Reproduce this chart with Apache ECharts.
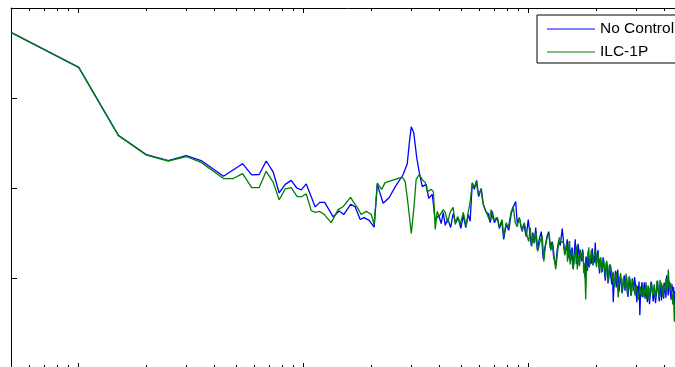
<!DOCTYPE html>
<html>
<head>
<meta charset="utf-8">
<script src="https://cdn.jsdelivr.net/npm/echarts@6/dist/echarts.min.js"></script>
<style>
  html, body { margin: 0; padding: 0; overflow: hidden; background: #fff; width: 675px; height: 367px; }
  #chart { width: 700px; height: 380px; }
</style>
</head>
<body>
<div id="chart"></div>
<script>
// Magnitude spectra, [frequency (Hz), magnitude (dB)]
const seriesNames = ['No Control', 'ILC-1P'];

const noControl = [
  [0.5,-5.4],[1,-13.2],[1.5,-28.3],[2,-32.6],[2.5,-33.9],[3,-32.8],[3.5,-33.9],[4.4,-37.4],
  [5.35,-34.6],[5.87,-37.1],[6.34,-37.0],[6.81,-34.0],[7.31,-36.4],[7.78,-41.1],[8.28,-39.2],[8.8,-38.3],[9.31,-40.0],[9.75,-40.4],
  [10.26,-39.1],[11.25,-44.2],[11.78,-43.2],[12.39,-43.2],[13.52,-46.4],[14.38,-45.1],[15.06,-45.9],[16.18,-43.6],[16.94,-44.2],
  [17.82,-47.0],[18.49,-46.6],[19.55,-47.2],[20.56,-48.7],
  [21.23,-39.2],[22.54,-43.4],[23.99,-42.1],[25.52,-39.7],[27.67,-37.0],[28.84,-34.6],[29.58,-29.2],[30.06,-26.4],[30.83,-27.7],
  [31.77,-33.2],[32.59,-36.4],[33.63,-39.7],[35.02,-39.2],[35.94,-42.3],[37.25,-41.4],[38.41,-47.2],[39.81,-46.1],
  [40.83,-47.9],[41.69,-45.4],[42.56,-48.3],[43.65,-46.8],[44.98,-48.8],[46.13,-45.7],[47.39,-47.7],[48.6,-46.6],[49.9,-49.0],
  [51.2,-46.1],[52.5,-48.8],[53.8,-45.9],[54.9,-47.4],[56.1,-39.0],[57.3,-40.3],[58.7,-38.3],[59.9,-41.9],[61.5,-40.1],[62.8,-43.7],
  [64.4,-45.2],[66.1,-45.7],[67.4,-47.7],[68.9,-45.2],[70.3,-47.7],[72.5,-46.6],[74.0,-49.0],[75.9,-47.4],[77.4,-51.4],[79.4,-48.1],
  [81.5,-49.4],[83.6,-45.7],[85.3,-44.3],[87.5,-43.0],[88.9,-47.9],[90.8,-46.6],[93.1,-49.4],[95.1,-48.1],[97.5,-50.8],
  [99.5,-47.0],[101.0,-49.7],[102.6,-52.8],[104.2,-49.9],[105.7,-52.3],[107.4,-48.8],[109.1,-53.7],[111.4,-51.4],[113.7,-49.7],
  [115.9,-55.7],[118.4,-52.8],[120.8,-50.6],[122.7,-49.7],[124.7,-53.4],[127.1,-51.9],[129.1,-55.4],[131.8,-57.2],[133.9,-53.7],
  [135.9,-51.7],[138.0,-52.8],[140.9,-49.0],[143.2,-52.6],[145.3,-54.6],
  [148.3,-51.4],[149.5,-55.6],[150.7,-54.3],[151.8,-51.8],[152.8,-56.3],[154.4,-54.0],[156.1,-53.2],[157.3,-57.9],[158.5,-56.8],
  [159.8,-53.5],[161.0,-51.4],[162.7,-56.9],[164.4,-55.4],[165.6,-52.4],[166.9,-53.7],[168.1,-57.0],[169.4,-53.9],[170.7,-55.0],
  [172.1,-56.3],[173.4,-53.6],[174.8,-55.7],[176.5,-58.0],[178.3,-60.1],[179.7,-55.2],[181.1,-56.3],[182.5,-58.4],[183.9,-54.1],
  [185.8,-57.6],[187.7,-55.9],[189.6,-56.8],[191.6,-53.4],[193.0,-57.2],[194.5,-55.2],[196.0,-56.6],[197.5,-52.1],[199.5,-57.0],
  [201.5,-55.4],[203.1,-53.8],[204.8,-56.3],[206.4,-59.0],[208.0,-55.7],[210.1,-56.8],[212.3,-58.6],[213.9,-55.4],[215.5,-56.3],
  [217.2,-58.8],[218.9,-60.6],[221.1,-56.6],[223.4,-57.2],[225.1,-61.2],[226.9,-59.4],[228.6,-57.0],[230.3,-58.6],[232.1,-60.0],
  [233.9,-61.4],[235.7,-58.9],[237.5,-65.4],[239.3,-61.8],[241.2,-60.6],[243.0,-58.4],[244.9,-62.1],[246.8,-60.0],[248.7,-58.1],
  [250.6,-61.5],[252.5,-63.0],[255.1,-59.6],[257.8,-60.8],[259.8,-63.4],[261.8,-62.1],[263.8,-60.4],[265.8,-59.4],[267.8,-62.8],
  [269.9,-61.0],[272.0,-59.8],[274.1,-63.0],[276.2,-64.2],[278.3,-61.2],[280.4,-59.9],[282.6,-62.6],[285.6,-63.8],[288.6,-60.1],
  [290.8,-61.5],[293.1,-62.8],[295.4,-59.8],[297.7,-61.4],[300.0,-63.0],[302.3,-65.4],[304.6,-61.8],[307.0,-63.4],[309.3,-60.8],
  [311.7,-68.3],[313.9,-64.0],[316.2,-62.6],[318.7,-60.9],[321.3,-64.3],[323.8,-63.0],[326.3,-61.0],[328.7,-64.6],[331.2,-63.2],
  [333.9,-61.6],[336.6,-65.4],[339.1,-63.6],[341.6,-62.1],[344.1,-65.8],[346.7,-63.9],[349.4,-60.8],[352.2,-61.4],[354.7,-63.0],
  [357.3,-65.2],[360.2,-64.0],[363.1,-62.6],[365.9,-65.6],[368.7,-63.9],[371.4,-62.0],[374.1,-60.6],[377.1,-63.4],[380.2,-65.2],
  [383.3,-61.9],[386.4,-63.0],[389.0,-65.0],[391.7,-61.7],[394.9,-63.0],[398.1,-64.6],[401.3,-61.0],[404.6,-62.8],[407.4,-64.4],
  [410.2,-59.4],[413.5,-61.6],[416.9,-63.9],[420.2,-60.8],[423.6,-61.9],[426.5,-63.6],[429.5,-64.8],[433.0,-61.4],[436.5,-63.0],
  [440.0,-62.0],[443.6,-65.9],[446.7,-62.9],[449.8,-64.3],[455.5,-62.6],[461.3,-65.2],[468.8,-62.2],[476.4,-63.7],[483.7,-62.0],
  [491.0,-64.8],[495.5,-63.1],[500,-64.2]
];

const ilc1p = [
  [0.5,-5.4],[1,-13.2],[1.5,-28.3],[2,-32.7],[2.5,-34.0],[3,-33.0],[3.5,-34.3],[4.4,-37.9],[4.86,-37.9],
  [5.35,-36.8],[5.87,-39.9],[6.34,-39.9],[6.81,-36.3],[7.31,-38.7],[7.78,-42.6],[8.28,-40.2],[8.8,-39.9],[9.35,-41.9],[9.8,-41.9],
  [10.26,-41.3],[10.79,-45.0],[11.25,-45.4],[11.74,-45.2],[12.35,-45.9],[13.24,-47.7],[14.22,-44.8],[15.0,-44.1],[16.14,-42.1],
  [16.94,-43.7],[17.3,-44.3],[18.0,-45.9],[18.97,-45.2],[19.95,-45.9],[20.56,-48.1],
  [21.23,-38.9],[22.2,-40.3],[23.0,-38.8],[25.5,-38.1],[27.4,-37.6],[28.25,-38.6],[29.1,-43.7],[30.06,-50.1],[30.83,-44.8],
  [31.6,-38.1],[32.6,-37.0],[33.6,-38.1],[34.7,-38.8],[35.4,-40.8],[36.9,-40.3],[37.7,-40.8],[38.4,-49.2],[39.2,-45.2],
  [40.0,-46.3],[41.69,-44.8],[42.56,-45.4],[43.65,-47.7],[44.7,-45.4],[46.13,-44.3],[47.1,-48.1],[48.3,-46.3],[49.6,-48.1],
  [51.2,-45.4],[52.7,-48.6],[53.8,-45.4],[54.9,-43.2],[56.1,-38.8],[57.3,-39.9],[58.4,-38.6],[59.7,-41.4],[61.5,-40.3],[62.5,-43.2],
  [64.1,-44.8],[65.4,-45.2],[66.7,-47.0],[68.1,-44.8],[69.5,-47.0],[72.5,-46.6],[74.0,-48.6],[76.2,-47.0],[77.4,-50.8],[79.4,-47.7],
  [81.1,-48.8],[83.6,-45.2],[85.3,-44.1],[87.1,-47.7],[88.9,-48.6],[90.8,-46.6],[93.6,-49.7],[95.5,-47.7],[98.5,-50.8],[100,-51.9],
  [101.6,-48.8],[103.1,-53.0],[104.7,-50.1],[106.4,-52.1],[107.9,-49.7],[109.6,-54.1],[112.5,-51.7],[114.8,-50.6],[116.7,-56.3],
  [118.4,-53.2],[120.8,-51.0],[123.3,-50.1],[125.3,-53.9],[127.9,-52.3],[129.8,-55.4],[131.8,-58.1],[134.6,-53.9],[136.7,-51.0],
  [139.4,-52.1],[142.3,-51.9],[144.5,-55.0],
  [147.6,-52.3],[148.7,-56.4],[149.9,-54.8],[151.3,-52.0],[152.8,-57.0],[154.0,-55.6],[155.2,-53.7],[156.4,-56.9],[157.7,-58.1],
  [159.3,-55.8],[161.0,-54.6],[162.7,-52.8],[164.4,-58.1],[165.6,-56.5],[166.9,-55.0],[168.1,-57.4],[169.4,-53.7],[171.2,-55.0],
  [173.0,-56.1],[174.3,-54.0],[175.6,-59.0],[177.3,-56.8],[179.1,-64.8],[180.5,-58.8],[182.0,-56.6],[183.4,-55.0],[184.8,-53.2],
  [186.2,-57.4],[187.7,-56.1],[189.6,-53.8],[191.6,-54.1],[193.0,-57.0],[194.5,-55.7],[196.5,-53.6],[198.6,-54.3],[200.0,-57.6],
  [201.5,-56.3],[203.6,-54.6],[205.7,-58.1],[207.3,-56.9],[208.9,-55.4],[210.6,-58.8],[212.3,-57.7],[214.5,-55.9],[216.7,-57.0],
  [218.2,-58.4],[219.8,-59.9],[222.1,-56.2],[224.4,-57.7],[226.2,-60.6],[228.0,-59.0],[230.4,-57.0],[232.8,-58.1],[234.5,-59.6],
  [236.2,-60.8],[238.0,-58.6],[239.9,-62.1],[242.4,-61.0],[244.9,-58.6],[247.4,-60.9],[249.9,-64.3],[251.7,-61.8],[253.5,-60.3],
  [256.2,-58.9],[258.9,-61.9],[261.0,-62.8],[263.2,-59.9],[265.9,-61.2],[268.7,-62.1],[270.8,-59.0],[272.9,-60.3],[274.8,-63.6],
  [276.7,-62.6],[279.6,-59.6],[282.6,-60.8],[284.8,-64.0],[287.1,-63.0],[289.1,-60.4],[291.1,-61.2],[294.1,-62.6],[297.2,-63.9],
  [299.7,-61.4],[302.3,-62.6],[304.6,-63.4],[307.0,-64.8],[310.1,-63.0],[313.3,-61.9],[315.5,-63.6],[317.7,-64.1],[320.2,-63.2],
  [322.8,-61.7],[326.2,-64.0],[329.6,-62.6],[331.9,-60.9],[334.2,-64.8],[337.0,-63.0],[339.8,-61.7],[342.4,-64.9],[345.1,-63.4],
  [347.5,-62.0],[349.9,-61.2],[352.7,-62.6],[355.6,-63.9],[358.5,-62.4],[361.4,-61.4],[365.0,-64.4],[368.7,-63.2],[371.4,-60.6],
  [374.1,-61.7],[377.1,-63.0],[380.2,-64.6],[383.3,-60.4],[386.4,-62.1],[389.0,-61.0],[391.7,-63.4],[394.9,-64.2],[398.1,-61.2],
  [401.3,-62.0],[404.6,-63.0],[407.4,-60.0],[410.2,-61.4],[413.5,-63.0],[416.9,-58.1],[420.2,-60.6],[423.6,-62.6],[426.5,-61.0],
  [429.5,-61.4],[433.0,-63.0],[436.5,-65.9],[440.0,-63.5],[443.6,-69.7],[446.7,-66.0],[449.8,-64.8],[455.5,-62.3],[461.3,-63.9],
  [468.8,-65.6],[476.4,-65.2],[483.7,-62.8],[491.0,-63.4],[495.5,-65.0],[500,-64.6]
];

// Axis ticks
const freqMajorTicks = [1, 10, 100];
const freqMinorTicks = [0.5, 0.6, 0.7, 0.8, 0.9, 2, 3, 4, 5, 6, 7, 8, 9,
                        20, 30, 40, 50, 60, 70, 80, 90, 200, 300, 400, 500];
const magRange = [-80, 0];
const magStep = 20;

const black = '#000';
const lineColors = ['#0000ff', '#008000'];

const gridRect = { left: 11, top: 8, width: 675, height: 360 };

function freqAxis(gridIndex, position, ticks, len, showLine) {
  return {
    type: 'log', logBase: 10, min: 0.5, max: 500, gridIndex, position,
    axisLine: { show: showLine, onZero: false, lineStyle: { color: black, width: 1 } },
    axisTick: { show: true, inside: true, length: len, customValues: ticks,
                lineStyle: { color: black, width: 1 } },
    axisLabel: { show: false },
    splitLine: { show: false },
    minorTick: { show: false }
  };
}
function magAxis(gridIndex, position, show) {
  return {
    type: 'value', min: magRange[0], max: magRange[1], interval: magStep, gridIndex, position, show,
    axisLine: { show: true, onZero: false, lineStyle: { color: black, width: 1 } },
    axisTick: { show: true, inside: true, length: 6, lineStyle: { color: black, width: 1 } },
    axisLabel: { show: false },
    splitLine: { show: false }
  };
}

const chart = echarts.init(document.getElementById('chart'), null, { renderer: 'canvas' });
chart.setOption({
  animation: false,
  backgroundColor: '#fff',
  grid: [Object.assign({}, gridRect), Object.assign({}, gridRect)],
  xAxis: [
    freqAxis(0, 'bottom', freqMinorTicks, 3, true),
    freqAxis(0, 'top', freqMinorTicks, 3, true),
    freqAxis(1, 'bottom', freqMajorTicks, 5, false),
    freqAxis(1, 'top', freqMajorTicks, 5, false)
  ],
  yAxis: [
    magAxis(0, 'left', true),
    magAxis(0, 'right', true),
    magAxis(1, 'left', false)
  ],
  legend: {
    orient: 'vertical',
    left: 537, top: 15,
    padding: [6, 12, 3, 10],
    itemGap: 7,
    icon: 'rect',
    itemWidth: 48, itemHeight: 1,
    backgroundColor: '#fff',
    borderColor: black, borderWidth: 1, borderRadius: 0,
    textStyle: { color: black, fontSize: 15.5, lineHeight: 14, fontFamily: 'Liberation Sans, Arial, sans-serif' },
    data: seriesNames
  },
  series: [
    { name: seriesNames[0], type: 'line', xAxisIndex: 0, yAxisIndex: 0, data: noControl,
      symbol: 'none', lineStyle: { color: lineColors[0], width: 1.3 }, itemStyle: { color: lineColors[0] } },
    { name: seriesNames[1], type: 'line', xAxisIndex: 0, yAxisIndex: 0, data: ilc1p,
      symbol: 'none', lineStyle: { color: lineColors[1], width: 1.3 }, itemStyle: { color: lineColors[1] } }
  ]
});
</script>
</body>
</html>
